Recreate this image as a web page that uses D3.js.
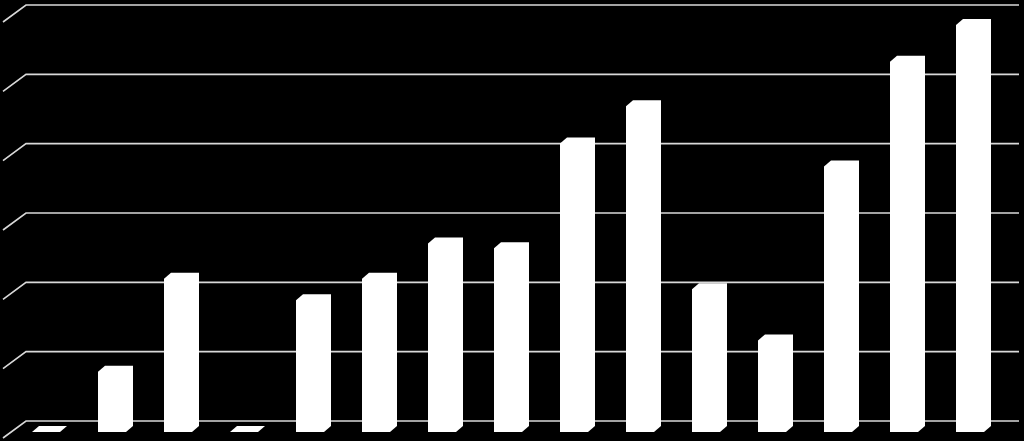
<!DOCTYPE html>
<html>
<head>
<meta charset="utf-8">
<script src="https://cdn.jsdelivr.net/npm/d3@7"></script>
<style>
  html, body { margin: 0; padding: 0; background: #000; }
  svg { display: block; }
</style>
</head>
<body>
<div id="chart"></div>
<script>
// categories and values (gridline step = 10)
var categories = ["c1", "c2", "c3", "c4", "c5", "c6", "c7", "c8", "c9", "c10", "c11", "c12", "c13", "c14", "c15"];
var values = [0, 8.7, 22.1, 0, 19.0, 22.1, 27.2, 26.5, 41.6, 47.0, 20.6, 13.2, 38.3, 53.4, 58.7];
var gridTicks = [0, 10, 20, 30, 40, 50, 60];

var width = 1024, height = 441;
// oblique projection: back wall sits up/right of the bar plane
var wallDx = 23, wallDy = 17;
var barDepthX = 7, barDepthY = 6;
var barWidth = 28;
var floorFront = 432;          // front bottom edge of bars
var wallLeft = 26, wallRight = 1019;
var wallFloor = 421;           // floor line on back wall

var svg = d3.select("#chart").append("svg")
    .attr("width", width)
    .attr("height", height)
    .style("background", "#000");

var x = d3.scalePoint().domain(categories).range([46, 970]);
var h = d3.scaleLinear().domain([0, 60]).range([0, 416]);

// gridlines on the back wall + left wall diagonals
var grid = svg.append("g").attr("class", "grid");
gridTicks.forEach(function (t) {
    var y = wallFloor - h(t);
    grid.append("path")
        .attr("d", "M" + (wallLeft - wallDx) + "," + (y + wallDy) + "L" + wallLeft + "," + y + "L" + wallRight + "," + y)
        .attr("fill", "none")
        .attr("stroke", "#d9d9d9")
        .attr("stroke-width", 1.6);
});

// bars: front face + top + side, all white, drawn as one outline
svg.append("g").attr("class", "bars")
    .selectAll("path")
    .data(categories)
    .enter().append("path")
    .attr("d", function (c, i) {
        var L = x(c) - barWidth / 2;
        var bh = h(values[i]);
        var p = d3.path();
        p.moveTo(L, floorFront);
        p.lineTo(L, floorFront - bh);
        p.lineTo(L + barDepthX, floorFront - barDepthY - bh);
        p.lineTo(L + barWidth + barDepthX, floorFront - barDepthY - bh);
        p.lineTo(L + barWidth + barDepthX, floorFront - barDepthY);
        p.lineTo(L + barWidth, floorFront);
        p.closePath();
        return p.toString();
    })
    .attr("fill", "#fff");
</script>
</body>
</html>
